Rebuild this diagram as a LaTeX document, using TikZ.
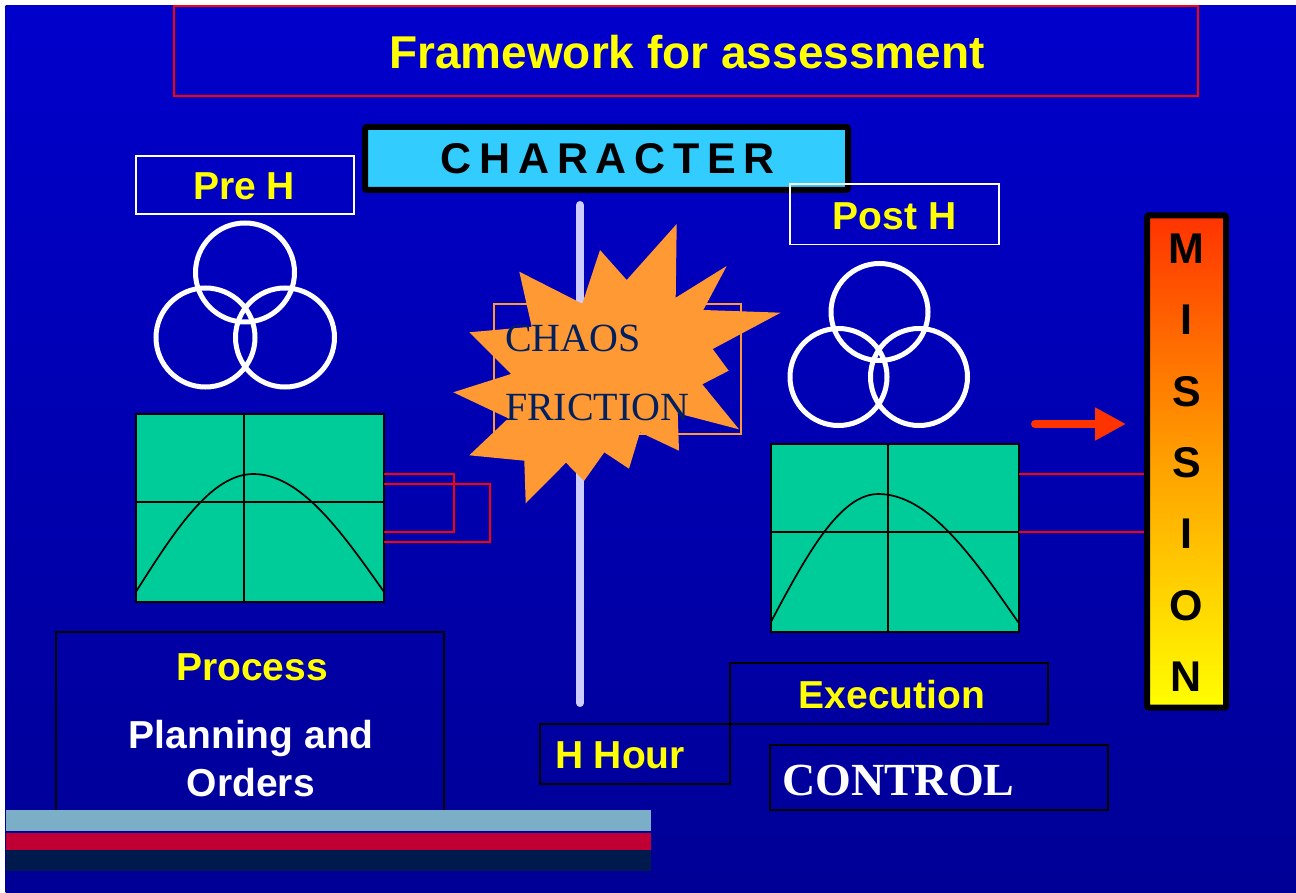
\documentclass[tikz,border=0pt]{standalone}
\usepackage{fontspec}
\setmainfont{Liberation Sans}
\newfontfamily\timesfont{Liberation Serif}
\newfontfamily\trackedfont[LetterSpace=18]{Liberation Sans}
\usetikzlibrary{arrows.meta}
\newcommand\setfs[1]{\fontsize{#1}{#1}\selectfont}

\definecolor{bgtop}{RGB}{0,0,204}
\definecolor{bgbot}{RGB}{0,0,150}
\definecolor{chartgreen}{RGB}{0,204,153}
\definecolor{charcyan}{RGB}{51,204,255}
\definecolor{burst}{RGB}{255,153,51}
\definecolor{chaosnavy}{RGB}{0,32,96}
\definecolor{hline}{RGB}{204,204,255}
\definecolor{arrowred}{RGB}{255,51,0}
\definecolor{missiontop}{RGB}{255,51,0}
\definecolor{missionmid}{RGB}{255,160,0}
\definecolor{missionbot}{RGB}{255,255,0}
\definecolor{stripeblue}{RGB}{123,175,200}
\definecolor{stripered}{RGB}{192,0,52}
\definecolor{stripenavy}{RGB}{0,26,77}
\definecolor{hiyellow}{RGB}{255,255,0}

\begin{document}
\begin{tikzpicture}[x=1pt, y=-1pt,
  box/.style={draw, rectangle, inner sep=0pt, outer sep=0pt},
  whitebox/.style={box, draw=white, line width=1.5pt},
  blackbox/.style={box, draw=black, line width=2pt},
  chartbox/.style={box, draw=black, line width=2pt, fill=chartgreen,
                   minimum width=248pt, minimum height=188pt},
  txt/.style={inner sep=0pt, outer sep=0pt, anchor=base},
  headtxt/.style={txt, text=hiyellow, font=\bfseries\setfs{39}},
  ring/.style={draw=white, line width=5pt},
  curve/.style={draw=black, line width=1.7pt},
  redlink/.style={draw=red, line width=2pt}
]
\useasboundingbox (0,0) rectangle (1296,893);
\fill[white] (0,0) rectangle (1296,893);
% slide background
\shade[top color=bgtop, bottom color=bgbot] (5.5,6) rectangle (1296,893);

% title
\node[box, draw=red, line width=1.5pt, minimum width=1024pt, minimum height=90pt]
  (titlebox) at (686,51) {};
\node[txt, text=hiyellow, font=\bfseries\setfs{46}] (title) at (687,69)
  {Framework for assessment};

% character banner
\node[box, draw=black, line width=6pt, fill=charcyan, rounded corners=2pt,
      minimum width=483pt, minimum height=63pt] (character) at (606.5,158.5) {};
\node[txt, font=\trackedfont\bfseries\setfs{43}] (charactertxt) at (608,173.3) {CHARACTER};

% Pre H side
\node[whitebox, minimum width=218pt, minimum height=58pt] (preh) at (245,185) {};
\node[headtxt] (prehtxt) at (244,200) {Pre H};
\draw[ring] (245,272.5) circle[radius=49.5pt];
\draw[ring] (205.5,337.5) circle[radius=49.5pt];
\draw[ring] (285,337.5) circle[radius=49.5pt];

\node[chartbox] (prechart) at (260.2,508.3) {};
\draw[line width=2pt] (244,414.3) -- (244,602.3);
\draw[line width=2pt] (136,502.3) -- (384.3,502.3);
\draw[curve] (136,591.7) sin (253.3,474) cos (384.3,592.3);

% Post H side
\node[whitebox, minimum width=209pt, minimum height=60.7pt] (posth) at (894.5,214.3) {};
\node[headtxt] (posthtxt) at (894.5,230) {Post H};
\draw[ring] (879.5,312) circle[radius=48.5pt];
\draw[ring] (838.5,377) circle[radius=48.5pt];
\draw[ring] (919,377) circle[radius=48.5pt];

\node[chartbox] (postchart) at (894.5,538.3) {};
\draw[line width=2pt] (888.3,444.3) -- (888.3,632.3);
\draw[line width=2pt] (770.7,532.3) -- (1018.3,532.3);
\draw[curve] (770.7,622.3) sin (878.3,494) cos (1018.3,622.3);

% red loops off the Pre H chart
\coordinate (loopAtop) at (454,474.3);
\coordinate (loopAbot) at (454,532.3);
\coordinate (loopBtop) at (490,484.3);
\coordinate (loopBbot) at (490,542.3);
\draw[redlink] (prechart.east |- loopAtop) -- (loopAtop) -- (loopAbot) -- (prechart.east |- loopAbot);
\draw[redlink] (prechart.east |- loopBtop) -- (loopBtop) -- (loopBbot) -- (prechart.east |- loopBbot);

% H hour time line
\coordinate (hlinetop) at (580,205);
\coordinate (hlinebot) at (580,703);
\draw[hline, line width=8pt, line cap=round] (hlinetop) -- (hlinebot);

% chaos / friction burst
\draw[burst, line width=1.5pt] (494,304) rectangle (741,434);
\fill[burst] (676.7,224) -- (675.7,297.7) -- (726.7,266) -- (703.3,310) -- (780.7,312.7)
  -- (712.7,349) -- (728.7,370.7) -- (702.3,384.3) -- (739,429.3) -- (677.7,413.3)
  -- (679,450.7) -- (640,432.3) -- (629,468.7) -- (604.3,452.3) -- (584,481)
  -- (566,462.7) -- (525.7,503.3) -- (524.3,460.7) -- (469.3,455.3) -- (508.3,418.3)
  -- (453.3,392.3) -- (511,374) -- (469.3,332.3) -- (531.7,326.7) -- (519.3,271.7)
  -- (582.3,303.7) -- (600,250) -- (626.7,280) -- cycle;
\node[txt, anchor=base west, text=chaosnavy, font=\timesfont\setfs{40}] (chaos) at (505,351.7) {CHAOS};
\node[txt, anchor=base west, text=chaosnavy, font=\timesfont\setfs{40}] (friction) at (505,420.7) {FRICTION};

% process box
\node[blackbox, minimum width=388.6pt, minimum height=178.4pt] (process) at (250,721.5) {};
\node[headtxt] (processtxt) at (252,680) {Process};
\node[txt, text=white, font=\bfseries\setfs{39}] (planning) at (251.3,748.3) {Planning and};
\node[txt, text=white, font=\bfseries\setfs{39}] (orders) at (250.8,796.7) {Orders};

% execution / H hour / control
\node[blackbox, minimum width=318pt, minimum height=61pt] (execution) at (889,693.5) {};
\node[headtxt] (executiontxt) at (892,708.3) {Execution};
\node[blackbox, minimum width=190pt, minimum height=60pt] (hhour) at (635,754) {};
\node[headtxt] (hhourtxt) at (620,768.3) {H Hour};
\node[blackbox, minimum width=338pt, minimum height=65pt] (control) at (939,777.5) {};
\node[txt, anchor=base west, text=white, font=\timesfont\bfseries\setfs{46}] (controltxt) at (782,795) {CONTROL};

% footer stripes
\fill[stripeblue] (5.5,810) rectangle (651,830.7);
\fill[stripered] (5.5,833.3) rectangle (651,850);
\fill[stripenavy] (5.5,850) rectangle (651,870.7);

% links into the mission bar
\coordinate (linkA) at (1147,474.3);
\coordinate (linkB) at (1147,532.3);
\coordinate (arrowtail) at (1035,424);
\coordinate (arrowhead) at (1126,424);
\draw[redlink] (postchart.east |- linkA) -- (linkA);
\draw[redlink] (postchart.east |- linkB) -- (linkB);
\draw[arrowred, line width=8pt, line cap=round,
      -{Triangle[length=31pt, width=31pt]}] (arrowtail) -- (arrowhead);

% mission bar
\node[box, draw=black, line width=6pt, rounded corners=2pt,
      top color=missiontop, bottom color=missionbot, middle color=missionmid,
      minimum width=79pt, minimum height=492.4pt] (mission) at (1186.5,461.5) {};
\foreach \ch [count=\i from 0] in {M,I,S,S,I,O,N}
  \node[txt, font=\bfseries\setfs{43}] (mission\i) at (1186.5,{263.3+71.4*\i}) {\ch};
\end{tikzpicture}
\end{document}
